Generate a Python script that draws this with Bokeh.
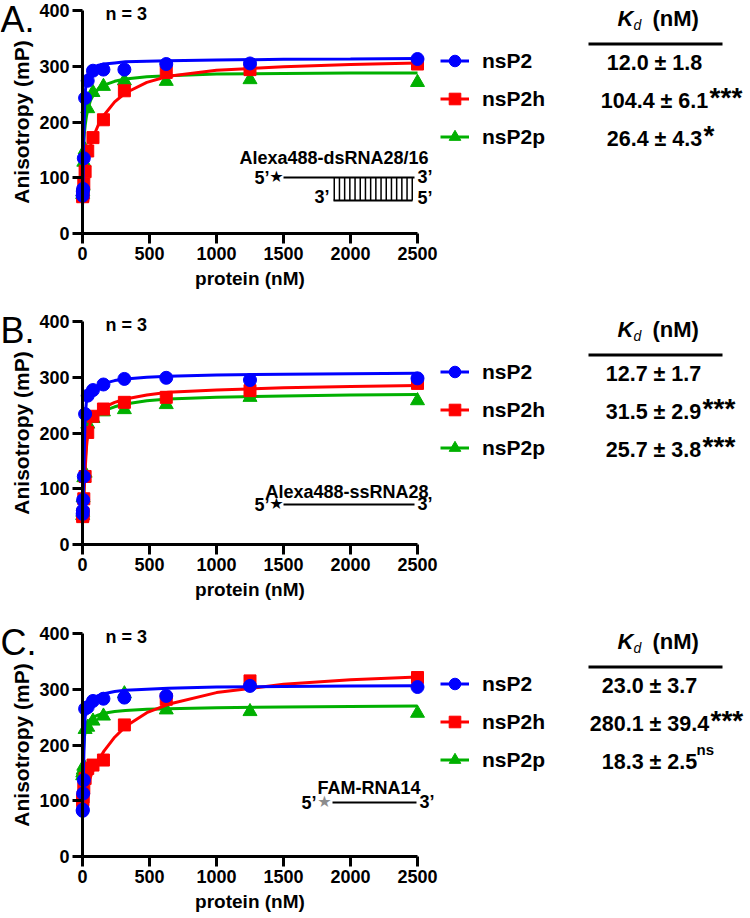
from bokeh.plotting import figure
from bokeh.models import Label, Legend, LegendItem, BoxAnnotation, FixedTicker, Range1d
from bokeh.layouts import column
from bokeh.embed import file_html
from bokeh.resources import INLINE

FONT = "Liberation Sans"
BLUE, RED, GREEN = "#0000ff", "#ff0000", "#00b000"

# ---------------- data ----------------
series = ["nsP2", "nsP2h", "nsP2p"]
conc = [2500, 1250, 625, 312.5, 156.25, 78.13, 39.06, 19.53, 9.77, 4.88, 2.44, 1.22]
fit_x = [0, 2.5, 5, 7.5, 10, 15, 20, 30, 40, 60, 80, 120, 160, 240, 320, 480, 640, 1000, 1500, 2000, 2500]

A_nsP2 = [313, 305, 304, 294, 294, 292, 274, 243, 135, 80, 75, 68]
A_nsP2h = [304, 294, 289, 256, 204, 172, 148, 111, 89, 72, 68, 66]
A_nsP2p = [271, 276, 273, 274, 264, 253, 224, 150, 128, 85, 75, 70]
A_fit_nsP2 = [47, 72, 105, 140, 172, 222, 252, 276, 286, 294, 298, 302, 304, 306, 308, 309, 310, 311, 312.5, 313, 314]
A_fit_nsP2h = [62, 68, 74, 80, 86, 97, 107, 124, 138, 158, 173, 196, 212, 236, 252, 271, 282, 293, 299, 303, 306]
A_fit_nsP2p = [120, 135, 147, 158, 167, 182, 194, 211, 223, 239, 248, 260, 266, 273, 277, 281, 283, 286, 287, 288, 288]
A_kd = ["12.0 ± 1.8", "104.4 ± 6.1", "26.4 ± 4.3"]
A_sig = ["", "***", "*"]

B_nsP2 = [298, 295, 299, 297, 287, 277, 267, 234, 122, 80, 61, 55]
B_nsP2h = [289, 276, 264, 255, 243, 230, 201, 122, 82, 55, 52, 50]
B_nsP2p = [258, 264, 251, 242, 238, 226, 216, 128, 120, 84, 58, 52]
B_fit_nsP2 = [50, 62, 80, 100, 125, 185, 232, 258, 266, 273, 278, 284, 289, 294, 297, 300, 302, 304, 305.5, 306.5, 307]
B_fit_nsP2h = [50, 56, 63, 72, 84, 110, 135, 175, 200, 220, 230, 240, 246, 255, 261, 268, 273, 277, 281, 283.5, 285]
B_fit_nsP2p = [55, 62, 72, 84, 97, 125, 150, 185, 204, 218, 226, 234, 240, 247, 252, 258, 261, 264, 266.5, 268, 269]
B_kd = ["12.7 ± 1.7", "31.5 ± 2.9", "25.7 ± 3.8"]
B_sig = ["", "***", "***"]

C_nsP2 = [304, 306, 288, 285, 283, 279, 268, 265, 137, 113, 84, 82]
C_nsP2h = [321, 315, 282, 236, 173, 164, 158, 140, 122, 107, 102, 100]
C_nsP2p = [257, 260, 263, 292, 252, 243, 232, 228, 162, 155, 150, 145]
C_fit_nsP2 = [85, 100, 120, 150, 180, 225, 250, 266, 273, 280, 284, 289, 292, 296, 298, 300, 302, 304, 305, 306, 306.5]
C_fit_nsP2h = [100, 102, 104, 106, 108, 112, 116, 123, 130, 143, 155, 173, 189, 214, 233, 258, 273, 294, 309, 317, 322]
C_fit_nsP2p = [160, 170, 180, 190, 200, 215, 224, 234, 240, 246, 250, 254, 257, 260, 262, 264, 265, 267, 268, 269, 270]
C_kd = ["23.0 ± 3.7", "280.1 ± 39.4", "18.3 ± 2.5"]
C_sig = ["", "***", "ns"]

x_ticks = [0, 500, 1000, 1500, 2000, 2500]
y_ticks = [0, 100, 200, 300, 400]

# --------------------------------------------------------------
W_BOLD = {"0": .556, "1": .556, "2": .556, "3": .556, "4": .556, "5": .556,
          "6": .556, "7": .556, "8": .556, "9": .556, ".": .278, " ": .278, "±": .584}

FIG_W = 750
PX_PER_NM = 335 / 2500      # x scale (px per nM)
PX_PER_MP = 223 / 400       # y scale (px per mP)
X0_PX = 82                  # x=0 position from the canvas left
VAL_FS = 21.5


def text_w(s, size):
    return sum(W_BOLD.get(c, .6) for c in s) * size


def make_panel(letter, pts, fits, kd, sig, probe, height, top, cx):
    zero_px = top + 223                    # y=0 from the canvas top
    xs = -X0_PX / PX_PER_NM
    xe = xs + FIG_W / PX_PER_NM
    ye = 400 + top / PX_PER_MP
    ys = -(height - zero_px) / PX_PER_MP
    p = figure(width=FIG_W, height=height, min_border=0,
               x_range=Range1d(xs, xe), y_range=Range1d(ys, ye),
               output_backend="svg", toolbar_location=None)
    p.title.visible = False
    p.grid.visible = False
    p.outline_line_color = None
    p.background_fill_color = "white"
    p.border_fill_color = "white"

    ox = X0_PX - 6           # reference point for annotation offsets (screen px)
    oy = height - zero_px    # y=0 line in screen px (from bottom)

    def lab(x, y, text, size, style="bold", align="left", baseline="middle",
            color="black", font=FONT):
        p.add_layout(Label(x=ox + x, y=oy + y, x_units="screen", y_units="screen",
                           text=text, text_font=font, text_font_size=f"{size}px",
                           text_font_style=style, text_align=align,
                           text_baseline=baseline, text_color=color))

    def box(l, r, b, t):
        p.add_layout(BoxAnnotation(left=ox + l, right=ox + r, bottom=oy + b, top=oy + t,
                                   left_units="screen", right_units="screen",
                                   bottom_units="screen", top_units="screen",
                                   fill_color="black", fill_alpha=1.0,
                                   line_alpha=0))

    p.xaxis.ticker = FixedTicker(ticks=x_ticks)
    p.xaxis.bounds = (0, 2500)
    p.xaxis.fixed_location = 0
    p.yaxis.ticker = FixedTicker(ticks=y_ticks)
    p.yaxis.bounds = (0, 400)
    p.yaxis.fixed_location = 0
    p.xaxis.axis_label = "protein (nM)"
    p.yaxis.axis_label = "Anisotropy (mP)"
    for ax in p.axis:
        ax.axis_line_width = 3
        ax.axis_line_color = "black"
        ax.major_tick_line_width = 3
        ax.major_tick_line_color = "black"
        ax.major_tick_out = 10
        ax.major_tick_in = 0
        ax.minor_tick_line_color = None
        ax.major_label_text_font = FONT
        ax.major_label_text_font_style = "bold"
        ax.major_label_text_font_size = "18px"
        ax.major_label_text_color = "black"
        ax.major_label_standoff = 3
        ax.axis_label_text_font = FONT
        ax.axis_label_text_font_style = "bold"
        ax.axis_label_text_color = "black"
    p.xaxis.axis_label_text_font_size = "19px"
    p.xaxis.axis_label_standoff = 5
    p.yaxis.axis_label_text_font_size = "21px"
    p.yaxis.axis_label_standoff = 3

    colors = [BLUE, RED, GREEN]
    markers = ["circle", "square", "triangle"]
    sizes = [13, 12, 14]
    rends = {}
    for i in [2, 1, 0]:
        lr = p.line(fit_x, fits[i], line_width=3, color=colors[i])
        sr = p.scatter(conc, pts[i], marker=markers[i], size=sizes[i],
                       fill_color=colors[i], line_color=colors[i])
        rends[i] = [lr, sr]

    items = [LegendItem(label=series[i], renderers=rends[i]) for i in range(3)]
    leg = Legend(items=items, location=(ox + 364, oy + 80), orientation="vertical",
                 glyph_width=29, glyph_height=33, spacing=5, label_standoff=13,
                 padding=0, margin=0, border_line_alpha=0,
                 background_fill_alpha=0, label_text_font=FONT,
                 label_text_font_style="bold", label_text_font_size="21px",
                 label_text_color="black")
    p.add_layout(leg)

    # panel letter and n
    lab(-76, 214, letter, 36, style="normal")
    lab(29, 220, "n = 3", 18)

    # Kd table
    lab(541, 215, "K", 22, style="bold italic")
    lab(557, 209, "d", 14, style="italic")
    lab(576, 215, "(nM)", 22)
    box(512, 646, 188, 191)
    rows_y = [171, 133, 95]
    for k in range(3):
        lab(cx, rows_y[k], kd[k], VAL_FS, align="center")
        xr = cx + text_w(kd[k], VAL_FS) / 2
        if sig[k] == "ns":
            lab(xr - 1, rows_y[k] + 12, "ns", 15)
        elif sig[k]:
            lab(xr + 1, rows_y[k] + 3, sig[k], 28)

    # RNA schematic
    if probe == "ds":
        lab(352, 76, "Alexa488-dsRNA28/16", 18, align="right")
        lab(193, 56, "5\u2019", 18, align="right")
        lab(200, 57, "\u2605", 16, style="normal", align="center", font="DejaVu Sans")
        box(207, 338, 55, 57)
        lab(341, 57, "3\u2019", 18)
        lab(253, 37, "3\u2019", 18, align="right")
        box(257, 336, 32, 34)
        n = 16
        for j in range(n):
            xx = 257 + j * (335 - 257) / (n - 1)
            box(xx, xx + 1.5, 33, 56)
        lab(341, 36, "5\u2019", 18)
    elif probe == "ss":
        lab(352, 53, "Alexa488-ssRNA28", 18, align="right")
        lab(193, 40, "5\u2019", 18, align="right")
        lab(200, 41, "\u2605", 16, style="normal", align="center", font="DejaVu Sans")
        box(207, 338, 39, 41)
        lab(341, 41, "3\u2019", 18)
    else:
        lab(344, 69, "FAM-RNA14", 18, align="right")
        lab(240, 54, "5\u2019", 18, align="right")
        lab(248, 55, "\u2605", 16, style="normal", align="center",
            color="#8c8c8c", font="DejaVu Sans")
        box(256, 340, 53, 55)
        lab(343, 55, "3\u2019", 18)
    return p


pA = make_panel("A.", [A_nsP2, A_nsP2h, A_nsP2p],
                [A_fit_nsP2, A_fit_nsP2h, A_fit_nsP2p], A_kd, A_sig, "ds", 311, 10, 578)
pB = make_panel("B.", [B_nsP2, B_nsP2h, B_nsP2p],
                [B_fit_nsP2, B_fit_nsP2h, B_fit_nsP2p], B_kd, B_sig, "ss", 311, 10, 577)
pC = make_panel("C.", [C_nsP2, C_nsP2h, C_nsP2p],
                [C_fit_nsP2, C_fit_nsP2h, C_fit_nsP2p], C_kd, C_sig, "fam", 295, 11, 573)

layout = column(pA, pB, pC, spacing=0)
open("out.html", "w").write(file_html(layout, INLINE))
